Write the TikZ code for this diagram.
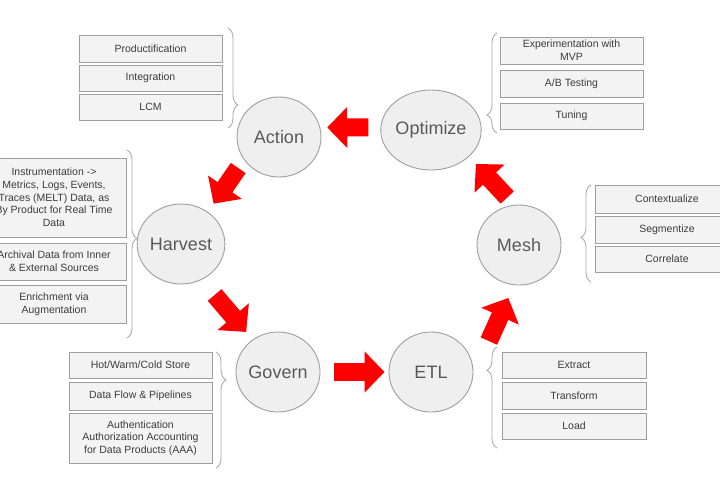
\documentclass[tikz,border=0pt]{standalone}
\usepackage{fontspec}
\setmainfont{Liberation Sans}
\usetikzlibrary{arrows.meta,shapes.geometric,decorations.pathreplacing}

\definecolor{phasefill}{HTML}{EFEFEF}
\definecolor{phaseline}{HTML}{9E9E9E}
\definecolor{phasetext}{HTML}{595959}
\definecolor{itemfill}{HTML}{F3F3F3}
\definecolor{itemtext}{HTML}{3C3C3C}
\definecolor{bracegray}{HTML}{ABABAB}
\definecolor{flowred}{HTML}{FF0000}

\begin{document}
\begin{tikzpicture}[x=1pt,y=-1pt,
  phase/.style={ellipse, draw=phaseline, fill=phasefill, line width=0.9pt,
    minimum width=84pt, minimum height=80pt, inner sep=0pt,
    text=phasetext, font=\fontsize{18}{20}\selectfont},
  item/.style={rectangle, draw=phaseline, fill=itemfill, line width=0.9pt,
    minimum width=143pt, inner sep=1pt, align=center,
    text=itemtext, font=\fontsize{10.5}{12.7}\selectfont},
  flow/.style={draw=flowred, line width=18pt, -{Triangle[width=40pt,length=20pt]}},
  curly/.style={draw=bracegray, line width=0.9pt, decorate,
    decoration={brace, amplitude=10pt, aspect=#1}}]
  \useasboundingbox (0,0) rectangle (720,480);
  \clip (0,0) rectangle (720,480);

  % The six phases of the cycle
  \node[phase] (action) at (279,137) {Action};
  \node[phase] (optimize) at (431,130) {Optimize};
  \node[phase] (harvest) at (181,244) {Harvest};
  \node[phase] (mesh) at (519,245) {Mesh};
  \node[phase] (govern) at (278,372) {Govern};
  \node[phase] (etl) at (431,372) {ETL};

  % Action items
  \node[item, minimum height=27pt] (prod) at (150.5,48.5) {Productification};
  \node[item, minimum height=26pt] (integ) at (150.5,78) {Integration};
  \node[item, minimum height=26pt] (lcm) at (150.5,107) {LCM};
  \draw[curly=0.77] (228,28) -- (228,128);

  % Harvest items
  \node[item, minimum width=144pt, minimum height=79pt] (instr) at (54,197.5)
    {Instrumentation ->\\Metrics, Logs, Events,\\Traces (MELT) Data, as\\By Product for Real Time\\Data};
  \node[item, minimum width=144pt, minimum height=37pt] (archival) at (54,261.5)
    {Archival Data from Inner\\\& External Sources};
  \node[item, minimum width=144pt, minimum height=38pt] (enrich) at (54,304)
    {Enrichment via\\Augmentation};
  \draw[curly=0.47] (127,150) -- (127,338);

  % Govern items
  \node[item, minimum height=26pt] (store) at (140.5,365) {Hot/Warm/Cold Store};
  \node[item, minimum height=28pt] (dataflow) at (140.5,396) {Data Flow \& Pipelines};
  \node[item, minimum height=50pt] (aaa) at (140.5,438)
    {Authentication\\Authorization Accounting\\for Data Products (AAA)};
  \draw[curly=0.24] (216,352) -- (216,468);

  % Optimize items
  \node[item, minimum height=27pt] (exper) at (571.5,50.5) {Experimentation with\\MVP};
  \node[item, minimum height=27pt] (abtest) at (571.5,83.5) {A/B Testing};
  \node[item, minimum height=26pt] (tuning) at (571.5,116) {Tuning};
  \draw[curly=0.18] (497,133) -- (497,33);

  % Mesh items
  \node[item, minimum width=144pt, minimum height=28pt] (context) at (667,199) {Contextualize};
  \node[item, minimum width=144pt, minimum height=27pt] (segment) at (667,229.5) {Segmentize};
  \node[item, minimum width=144pt, minimum height=26pt] (correl) at (667,259) {Correlate};
  \draw[curly=0.46] (591,282) -- (591,185);

  % ETL items
  \node[item, minimum width=144pt, minimum height=26pt] (extract) at (574,365) {Extract};
  \node[item, minimum width=144pt, minimum height=27pt] (transform) at (574,395.5) {Transform};
  \node[item, minimum width=144pt, minimum height=26pt] (load) at (574,426) {Load};
  \draw[curly=0.77] (497,448) -- (497,347);

  % Draw the cycle arrows
  \draw[flow, shorten <=12pt, shorten >=7pt] (optimize.177) -- (action.13);
  \draw[flow, shorten <=10pt, shorten >=10pt] (action.213) -- (harvest.50);
  \draw[flow, shorten <=20pt, shorten >=10pt] (harvest.-60) -- (govern.128);
  \draw[flow, shorten <=14pt, shorten >=4pt] (govern.east) -- (etl.west);
  \draw[flow, shorten <=38pt, shorten >=14pt] (etl.-5) -- (mesh.263);
  \draw[flow, shorten <=10pt, shorten >=10pt] (mesh.97) -- (optimize.-35);
\end{tikzpicture}
\end{document}
